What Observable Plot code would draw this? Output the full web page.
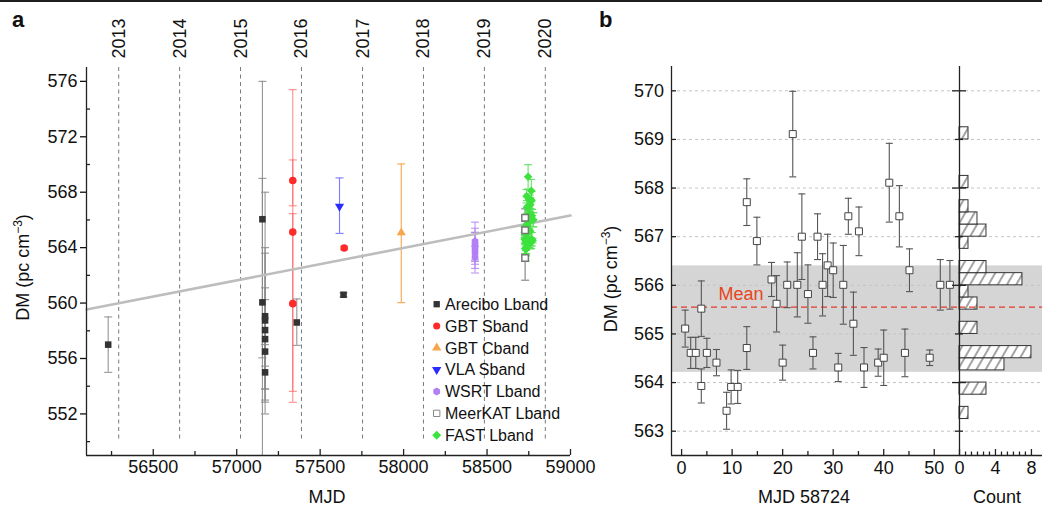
<!DOCTYPE html>
<html>
<head>
<meta charset="utf-8">
<script src="https://cdn.jsdelivr.net/npm/d3@7"></script>
<script src="https://cdn.jsdelivr.net/npm/@observablehq/plot@0.6"></script>
<style>
  html, body { margin: 0; padding: 0; background: #fff; }
  #fig { position: relative; width: 1042px; height: 505px; overflow: hidden; background: #fff;
         font-family: "Liberation Sans", Arial, Helvetica, sans-serif; }
  #fig > div { position: absolute; }
  #fig svg { display: block; max-width: none; }
</style>
</head>
<body>
<div id="fig"></div>
<script>
// ---------------- DATA ----------------
// Panel a: calendar year markers
const yearLabels = ["2013", "2014", "2015", "2016", "2017", "2018", "2019", "2020"];
const yearMJD = [56293, 56658, 57023, 57388, 57754, 58119, 58484, 58849];

// Panel a: linear fit (end points)
const fitMJD = [56100, 59000];
const fitDM = [559.53, 566.32];

// Arecibo L band
const areciboMJD = [56230, 57154, 57154, 57170, 57170, 57170, 57170, 57170, 57170, 57360, 57640];
const areciboDM  = [557.0, 566.05, 560.05, 559.05, 558.75, 558.05, 557.4, 556.5, 555.0, 558.6, 560.6];
const areciboLo  = [555.0, 556.05, 545.0, 552.0, 553.8, 555.45, 552.85, 553.8, 553.0, 556.95, 560.45];
const areciboHi  = [559.0, 576.0, 569.0, 568.0, 564.0, 561.1, 563.6, 560.25, 557.0, 560.3, 560.75];

// GBT S band
const gbtsMJD = [57336, 57336, 57336, 57644];
const gbtsDM  = [568.84, 565.12, 559.96, 563.97];
const gbtsLo  = [567.02, 552.84, 553.63, 563.85];
const gbtsHi  = [570.33, 575.4, 566.45, 564.1];

// GBT C band
const gbtcMJD = [57986];
const gbtcDM  = [565.08];
const gbtcLo  = [560.03];
const gbtcHi  = [570.04];

// VLA S band
const vlaMJD = [57616];
const vlaDM  = [566.97];
const vlaLo  = [565.03];
const vlaHi  = [569.03];

// WSRT L band
const wsrtMJD = [58428, 58428, 58428, 58428, 58428];
const wsrtDM  = [564.45, 564.2, 563.95, 563.65, 563.3];
const wsrtLo  = [563.1, 563.0, 562.8, 562.17, 562.5];
const wsrtHi  = [565.84, 565.4, 565.1, 565.1, 564.1];

// MeerKAT L band
const meerMJD = [58728, 58728, 58728];
const meerDM  = [566.16, 565.25, 563.25];
const meerLo  = [565.5, 564.6, 561.65];
const meerHi  = [566.8, 565.9, 564.85];

// FAST L band (panel b, days after MJD 58724)
const fastEpoch = 58724;
const fastDay = [0.7, 1.8, 2.8, 3.9, 3.9, 5.0, 6.9, 8.9, 9.8, 11.1, 12.9, 12.9, 14.9, 17.8, 18.8,
  20.0, 20.9, 22.0, 22.9, 23.8, 25.0, 26.0, 26.9, 27.9, 28.9, 30.0, 31.0, 32.0, 33.0, 34.0,
  35.1, 36.1, 38.9, 40.0, 41.1, 43.1, 44.2, 45.1, 49.1, 51.2, 53.1];
const fastDM = [565.11, 564.61, 564.61, 565.52, 563.93, 564.61, 564.41, 563.42, 563.91, 563.91,
  567.71, 564.71, 566.91, 566.12, 565.62, 564.41, 566.01, 569.11, 566.01, 567.0,
  565.82, 564.61, 567.0, 566.01, 566.41, 566.31, 564.31, 566.01, 567.42, 565.21,
  567.11, 564.31, 564.41, 564.51, 568.11, 567.42, 564.61, 566.31, 564.51, 566.01, 566.01];
const fastErr = [0.38, 0.32, 0.32, 0.57, 0.35, 0.3, 0.27, 0.38, 0.35, 0.34,
  0.48, 0.44, 0.49, 0.35, 0.58, 0.36, 0.47, 0.88, 0.66, 0.88,
  0.6, 0.33, 0.47, 0.64, 0.64, 0.56, 0.29, 0.81, 0.37, 0.65,
  0.5, 0.41, 0.28, 0.57, 0.81, 0.63, 0.49, 0.44, 0.16, 0.52, 0.5];
const fastMean = 565.55;
const fastBand = [564.21, 566.40];

// Tick values
const aYTicks = [552, 556, 560, 564, 568, 572, 576];
const aYMinor = [550, 554, 558, 562, 566, 570, 574];
const aXTicks = [56500, 57000, 57500, 58000, 58500, 59000];
const aXMinor = [56250, 56750, 57250, 57750, 58250, 58750];
const bYTicks = [563, 564, 565, 566, 567, 568, 569, 570];
const bYEven = [564, 566, 568, 570];
const bYOdd = [563, 565, 567, 569];
const bXTicks = [0, 10, 20, 30, 40, 50];
const bXMinor = [5, 15, 25, 35, 45];
const cXTicks = [0, 4, 8];
const cXMinor = [0.67, 1.33, 2, 2.67, 3.33, 4.67, 5.33, 6, 6.67, 7.33];
const binEdges = [562.5, 570.5];
const binStep = 0.25;

const legendLabels = ["Arecibo Lband", "GBT Sband", "GBT Cband", "VLA Sband", "WSRT Lband", "MeerKAT Lband", "FAST Lband"];

// ---------------- HELPERS ----------------
const fig = document.getElementById("fig");
const FONT = '"Liberation Sans", Arial, Helvetica, sans-serif';
const baseStyle = {fontFamily: FONT, fontSize: "18px", color: "#111", background: "transparent", overflow: "visible"};
const axisInk = {stroke: "#222", strokeWidth: 1.3};

const capSymbol = {draw(ctx, size) { const r = Math.sqrt(size / Math.PI); ctx.moveTo(-r, 0); ctx.lineTo(r, 0); }};
const triDown = {draw(ctx, size) {
  const y = -Math.sqrt(size / (Math.sqrt(3) * 3));
  ctx.moveTo(0, -y * 2); ctx.lineTo(-Math.sqrt(3) * y, y); ctx.lineTo(Math.sqrt(3) * y, y); ctx.closePath();
}};
const diamond = {draw(ctx, size) {
  const r = Math.sqrt(size / 2);
  ctx.moveTo(0, -r); ctx.lineTo(r, 0); ctx.lineTo(0, r); ctx.lineTo(-r, 0); ctx.closePath();
}};
const hexagon = {draw(ctx, size) {
  const r = Math.sqrt(size / (1.5 * Math.sqrt(3)));
  for (let k = 0; k < 6; ++k) { const a = Math.PI / 3 * k + Math.PI / 6; const px = r * Math.cos(a), py = r * Math.sin(a); k ? ctx.lineTo(px, py) : ctx.moveTo(px, py); }
  ctx.closePath();
}};

const toRows = (xs, dm, lo, hi) => xs.map((m, i) => ({x: m, dm: dm[i], lo: lo[i], hi: hi[i]}));
const arecibo = toRows(areciboMJD, areciboDM, areciboLo, areciboHi);
const gbtS = toRows(gbtsMJD, gbtsDM, gbtsLo, gbtsHi);
const gbtC = toRows(gbtcMJD, gbtcDM, gbtcLo, gbtcHi);
const vla = toRows(vlaMJD, vlaDM, vlaLo, vlaHi);
const wsrt = toRows(wsrtMJD, wsrtDM, wsrtLo, wsrtHi);
const meer = toRows(meerMJD, meerDM, meerLo, meerHi);
const fastA = fastDay.map((d, i) => ({x: fastEpoch + d, dm: fastDM[i], lo: fastDM[i] - fastErr[i], hi: fastDM[i] + fastErr[i]}));
const fastB = fastDay.map((d, i) => ({x: d, dm: fastDM[i], lo: fastDM[i] - fastErr[i], hi: fastDM[i] + fastErr[i]}));
const fitRows = fitMJD.map((m, i) => ({x: m, y: fitDM[i]}));

function errorBars(data, stroke, opacity = 1, capR = 4, sw = 1.1) {
  const common = {stroke, strokeOpacity: opacity, strokeWidth: sw, clip: true};
  return [
    Plot.ruleX(data, {x: "x", y1: "lo", y2: "hi", ...common}),
    Plot.dot(data, {x: "x", y: "lo", symbol: capSymbol, r: capR, fill: "none", ...common}),
    Plot.dot(data, {x: "x", y: "hi", symbol: capSymbol, r: capR, fill: "none", ...common})
  ];
}
function place(node, left, top) {
  const wrap = document.createElement("div");
  wrap.style.left = left + "px"; wrap.style.top = top + "px";
  wrap.appendChild(node); fig.appendChild(wrap);
}

// ---------------- PANEL A ----------------
const A = {w: 600, h: 505, l: 86, r: 30, t: 67, b: 50};
const aInW = A.w - A.l - A.r, aInH = A.h - A.t - A.b;
const plotA = Plot.plot({
  width: A.w, height: A.h, marginLeft: A.l, marginRight: A.r, marginTop: A.t, marginBottom: A.b,
  style: baseStyle,
  x: {domain: [56100, 59000]},
  y: {domain: [549, 577]},
  marks: [
    Plot.ruleX(yearMJD, {stroke: "#7a7a7a", strokeWidth: 1, strokeDasharray: "4,3.5", insetBottom: 13}),
    Plot.text(yearMJD, {x: d => d, text: (d, i) => yearLabels[i], frameAnchor: "top", rotate: -90,
      textAnchor: "start", lineAnchor: "bottom", dx: 6, dy: -9, fontSize: 18, fill: "#111"}),
    ...errorBars(arecibo, "#8a8a8a", 0.9),
    ...errorBars(gbtS, "#ff5a5a", 0.7),
    ...errorBars(gbtC, "#f9a54a", 1),
    ...errorBars(vla, "#7a7aff", 1),
    ...errorBars(wsrt, "#b48af0", 0.9),
    ...errorBars(meer, "#808080", 1),
    ...errorBars(fastA, "#55e055", 0.9),
    Plot.line(fitRows, {x: "x", y: "y", stroke: "#bdbdbd", strokeWidth: 2.6}),
    Plot.dot(arecibo, {x: "x", y: "dm", symbol: "square", r: 3.7, fill: "#333"}),
    Plot.dot(gbtS, {x: "x", y: "dm", r: 3.8, fill: "#ff2b2b"}),
    Plot.dot(gbtC, {x: "x", y: "dm", symbol: "triangle", r: 3.4, fill: "#f9a54a"}),
    Plot.dot(vla, {x: "x", y: "dm", symbol: triDown, r: 3.4, fill: "#2b2bff"}),
    Plot.dot(wsrt, {x: "x", y: "dm", symbol: hexagon, r: 3.5, fill: "#b27ff5"}),
    Plot.dot(fastA, {x: "x", y: "dm", symbol: diamond, r: 3.4, fill: "#3de23d"}),
    Plot.dot(meer, {x: "x", y: "dm", symbol: "square", r: 3.7, fill: "white", stroke: "#777"}),
    Plot.ruleX([56100], axisInk),
    Plot.ruleY([549], axisInk),
    Plot.axisY({ticks: aYTicks, tickSize: 6, tickPadding: 3, tickFormat: "d", fontSize: 18, label: null, strokeWidth: 1.3}),
    Plot.ruleY(aYMinor, {insetRight: aInW - 4, ...axisInk}),
    Plot.axisX({ticks: aXTicks, tickSize: 0, tickPadding: 5, tickFormat: "d", fontSize: 18, label: null}),
    Plot.ruleX(aXTicks, {insetTop: aInH - 6, ...axisInk}),
    Plot.ruleX(aXMinor, {insetTop: aInH - 4, ...axisInk})
  ]
});
place(plotA, 0, 0);

// ---------------- PANEL B ----------------
const gridStyle = {stroke: "#c4c4c4", strokeWidth: 1, strokeDasharray: "3,3"};
const meanStyle = {stroke: "#e23b2a", strokeWidth: 1.3, strokeDasharray: "6,4"};
const B = {w: 359, l: 71, r: 0, t: 66, b: 50};
const bInW = B.w - B.l - B.r, bInH = 505 - B.t - B.b;
const plotB = Plot.plot({
  width: B.w, height: 505, marginLeft: B.l, marginRight: B.r, marginTop: B.t, marginBottom: B.b,
  style: baseStyle,
  x: {domain: [-2, 55]},
  y: {domain: [562.5, 570.5]},
  marks: [
    Plot.rect([fastBand], {y1: d => d[0], y2: d => d[1], fill: "#d5d5d5"}),
    Plot.ruleY(bYTicks, gridStyle),
    Plot.ruleY([fastMean], meanStyle),
    Plot.text([fastMean], {y: d => d, text: () => "Mean", frameAnchor: "left", textAnchor: "start",
      dx: 47, dy: -13, fill: "#e8441a", fontSize: 18}),
    ...errorBars(fastB, "#555", 1, 3.5, 1.1),
    Plot.dot(fastB, {x: "x", y: "dm", symbol: "square", r: 3.95, fill: "white", stroke: "#444", strokeWidth: 1}),
    Plot.ruleX([-2], axisInk),
    Plot.ruleY([562.5], axisInk),
    Plot.axisY({ticks: bYTicks, tickSize: 0, tickPadding: 7.5, tickFormat: "d", fontSize: 18, label: null}),
    Plot.ruleY(bYTicks, {insetRight: bInW - 5, ...axisInk}),
    Plot.axisX({ticks: bXTicks, tickSize: 0, tickPadding: 6, tickFormat: "d", fontSize: 18, label: null}),
    Plot.ruleX(bXTicks, {insetTop: bInH - 6, ...axisInk}),
    Plot.ruleX(bXMinor, {insetTop: bInH - 4, ...axisInk})
  ]
});
place(plotB, 600, 0);

// ---------------- HISTOGRAM ----------------
const C = {w: 97, l: 14, r: 0, t: 66, b: 50};
const cInW = C.w - C.l - C.r, cInH = 505 - C.t - C.b;
const bins = d3.bin().domain(binEdges)
  .thresholds(d3.range(binEdges[0] + binStep, binEdges[1], binStep))(fastDM)
  .filter(b => b.length > 0);
const plotC = Plot.plot({
  width: C.w, height: 505, marginLeft: C.l, marginRight: C.r, marginTop: C.t, marginBottom: C.b,
  style: baseStyle,
  x: {domain: [0, 9.23]},
  y: {domain: [562.5, 570.5], axis: null},
  marks: [
    Plot.rect([fastBand], {y1: d => d[0], y2: d => d[1], fill: "#d5d5d5"}),
    Plot.ruleY(bYTicks, gridStyle),
    Plot.rect(bins, {x1: 0, x2: b => b.length, y1: b => b.x0, y2: b => b.x1, fill: "url(#hatch)", stroke: "#333", strokeWidth: 1}),
    Plot.ruleY([fastMean], meanStyle),
    Plot.ruleX([0], axisInk),
    Plot.ruleY([562.5], axisInk),
    Plot.ruleY(bYEven, {insetLeft: -7, insetRight: cInW - 7, ...axisInk}),
    Plot.ruleY(bYOdd, {insetLeft: -4, insetRight: cInW - 4, ...axisInk}),
    Plot.axisX({ticks: cXTicks, tickSize: 0, tickPadding: 6, tickFormat: "d", fontSize: 18, label: null}),
    Plot.ruleX(cXTicks, {insetTop: cInH - 6, ...axisInk}),
    Plot.ruleX(cXMinor, {insetTop: cInH - 3.5, ...axisInk})
  ]
});
const ns = "http://www.w3.org/2000/svg";
const defs = document.createElementNS(ns, "defs");
defs.innerHTML = '<pattern id="hatch" patternUnits="userSpaceOnUse" width="8" height="8" patternTransform="rotate(30)">' +
  '<rect x="-1" y="-1" width="10" height="10" fill="white"/>' +
  '<line x1="4" y1="-1" x2="4" y2="9" stroke="#333" stroke-width="0.9"/></pattern>';
plotC.insertBefore(defs, plotC.firstChild);
place(plotC, 945, 0);

// ---------------- OVERLAY: labels, legend ----------------
const legendSymbols = [
  {type: d3.symbolSquare, size: 40, fill: "#333", stroke: "none"},
  {type: d3.symbolCircle, size: 40, fill: "#ff2b2b", stroke: "none"},
  {type: d3.symbolTriangle, size: 38, fill: "#f9a54a", stroke: "none"},
  {type: triDown, size: 38, fill: "#2b2bff", stroke: "none"},
  {type: hexagon, size: 40, fill: "#b27ff5", stroke: "none"},
  {type: d3.symbolSquare, size: 40, fill: "white", stroke: "#888"},
  {type: diamond, size: 40, fill: "#3de23d", stroke: "none"}
];
let legendSvg = "";
legendLabels.forEach((lab, i) => {
  const base = 310 + i * 21.83;
  const s = legendSymbols[i];
  const p = d3.symbol(s.type, s.size)();
  legendSvg += `<path transform="translate(436.7,${base - 5.8})" d="${p}" fill="${s.fill}" stroke="${s.stroke}"/>`;
  legendSvg += `<text x="445" y="${base}" font-size="16">${lab}</text>`;
});
const over = document.createElement("div");
over.style.left = "0px"; over.style.top = "0px";
over.innerHTML = `<svg xmlns="${ns}" width="1042" height="505" style="font-family:'Liberation Sans',Arial,Helvetica,sans-serif;fill:#111;overflow:visible">
  <rect x="0" y="0" width="1042" height="2" fill="#1e1e1e"/>
  <text x="12" y="27" font-size="22" font-weight="bold">a</text>
  <text x="599" y="27" font-size="22" font-weight="bold">b</text>
  <text transform="translate(29,267.5) rotate(-90)" text-anchor="middle" font-size="18">DM (pc cm<tspan dy="-7" font-size="12">−3</tspan><tspan dy="7">)</tspan></text>
  <text transform="translate(616.5,279) rotate(-90)" text-anchor="middle" font-size="18">DM (pc cm<tspan dy="-7" font-size="12">−3</tspan><tspan dy="7">)</tspan></text>
  <text x="327" y="502.5" text-anchor="middle" font-size="18">MJD</text>
  <text x="804" y="502.5" text-anchor="middle" font-size="18">MJD 58724</text>
  <text x="997" y="502.5" text-anchor="middle" font-size="18">Count</text>
  ${legendSvg}
</svg>`;
fig.appendChild(over);
</script>
</body>
</html>
